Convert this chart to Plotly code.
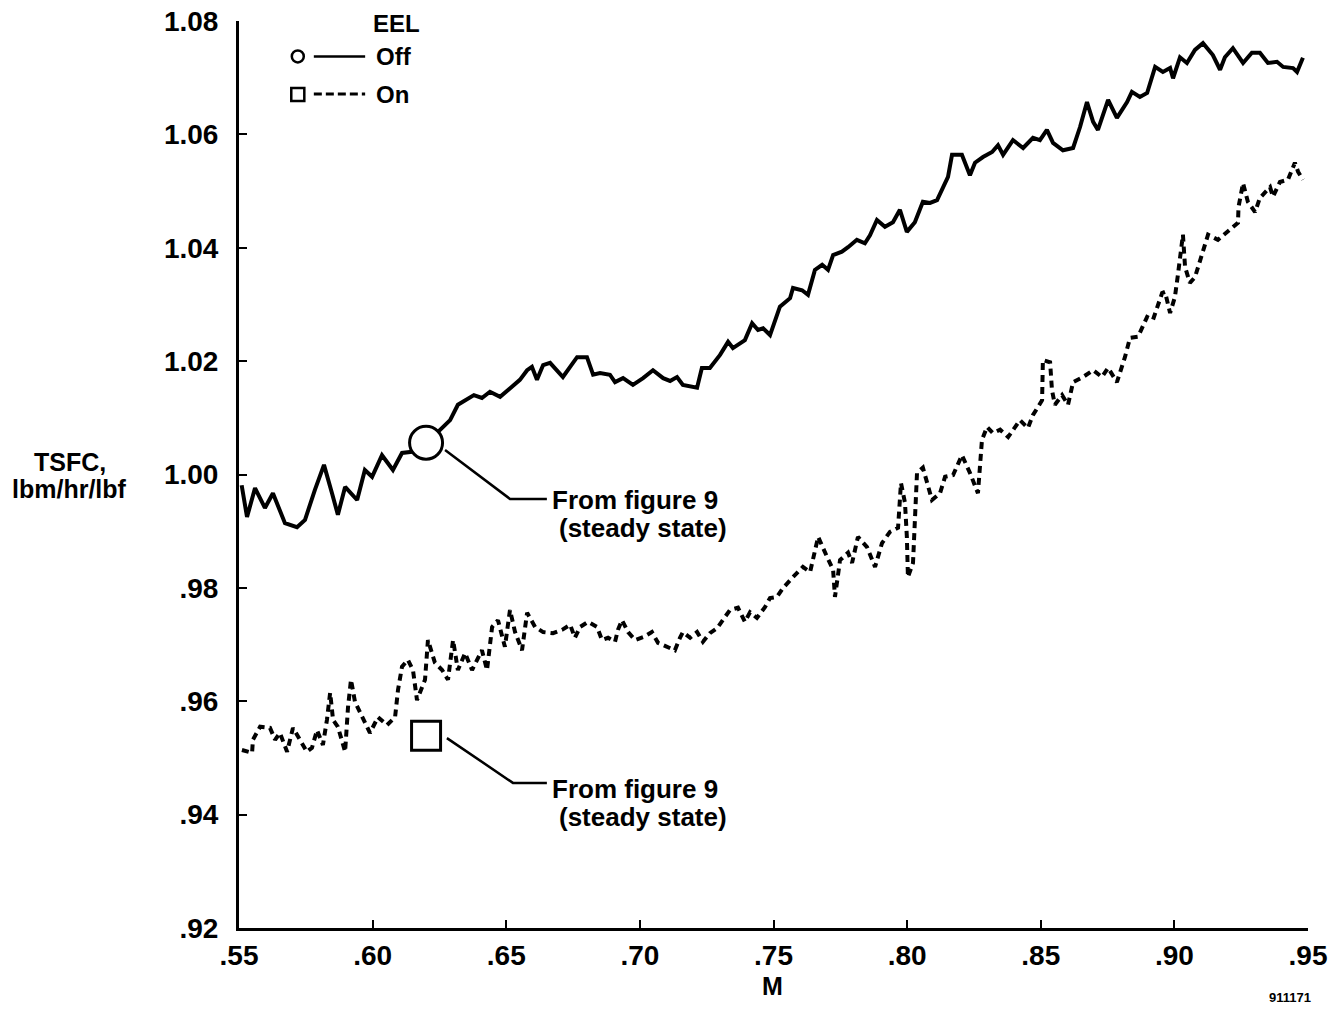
import plotly.graph_objects as go

# ---------------- data ----------------
off_mach = [0.5510, 0.5530, 0.5560, 0.5597, 0.5627, 0.5672, 0.5717, 0.5747, 0.5784, 0.5818,
            0.5848, 0.5870, 0.5897, 0.5942, 0.5971, 0.5998, 0.6035, 0.6076, 0.6110, 0.6147,
            0.6203, 0.6263, 0.6290, 0.6319, 0.6349, 0.6379, 0.6409, 0.6439, 0.6477, 0.6525,
            0.6551, 0.6578, 0.6596, 0.6615, 0.6638, 0.6664, 0.6712, 0.6739, 0.6765, 0.6802,
            0.6825, 0.6851, 0.6888, 0.6907, 0.6937, 0.6974, 0.7012, 0.7049, 0.7087, 0.7113,
            0.7139, 0.7161, 0.7214, 0.7232, 0.7262, 0.7300, 0.7330, 0.7348, 0.7393, 0.7420,
            0.7442, 0.7461, 0.7487, 0.7524, 0.7562, 0.7573, 0.7607, 0.7629, 0.7655, 0.7682,
            0.7704, 0.7723, 0.7756, 0.7779, 0.7812, 0.7842, 0.7861, 0.7887, 0.7917, 0.7947,
            0.7973, 0.7999, 0.8029, 0.8059, 0.8086, 0.8112, 0.8134, 0.8153, 0.8168, 0.8205,
            0.8235, 0.8254, 0.8284, 0.8318, 0.8340, 0.8359, 0.8396, 0.8434, 0.8471, 0.8497,
            0.8523, 0.8546, 0.8583, 0.8621, 0.8647, 0.8673, 0.8696, 0.8714, 0.8752, 0.8785,
            0.8823, 0.8841, 0.8871, 0.8898, 0.8928, 0.8957, 0.8984, 0.8995, 0.9021, 0.9047,
            0.9077, 0.9107, 0.9144, 0.9171, 0.9189, 0.9219, 0.9257, 0.9290, 0.9320, 0.9350,
            0.9384, 0.9407, 0.9444, 0.9459, 0.9481]
off_tsfc = [0.9981, 0.9925, 0.9976, 0.9941, 0.9967, 0.9914, 0.9907, 0.9920, 0.9973, 1.0017,
            0.9967, 0.9929, 0.9978, 0.9955, 1.0008, 0.9996, 1.0034, 1.0008, 1.0038, 1.0040,
            1.0056, 1.0082, 1.0096, 1.0123, 1.0131, 1.0140, 1.0135, 1.0146, 1.0137, 1.0158,
            1.0167, 1.0184, 1.0190, 1.0167, 1.0193, 1.0197, 1.0172, 1.0190, 1.0207, 1.0207,
            1.0176, 1.0179, 1.0176, 1.0163, 1.0170, 1.0158, 1.0170, 1.0184, 1.0170, 1.0165,
            1.0172, 1.0158, 1.0153, 1.0188, 1.0188, 1.0211, 1.0234, 1.0223, 1.0237, 1.0267,
            1.0255, 1.0258, 1.0246, 1.0296, 1.0311, 1.0329, 1.0325, 1.0317, 1.0361, 1.0370,
            1.0361, 1.0387, 1.0393, 1.0401, 1.0414, 1.0408, 1.0422, 1.0449, 1.0437, 1.0445,
            1.0467, 1.0428, 1.0445, 1.0481, 1.0479, 1.0484, 1.0505, 1.0525, 1.0564, 1.0564,
            1.0528, 1.0550, 1.0560, 1.0569, 1.0581, 1.0564, 1.0590, 1.0576, 1.0594, 1.0590,
            1.0608, 1.0585, 1.0572, 1.0576, 1.0613, 1.0657, 1.0622, 1.0608, 1.0661, 1.0629,
            1.0657, 1.0675, 1.0666, 1.0673, 1.0719, 1.0710, 1.0717, 1.0699, 1.0736, 1.0726,
            1.0749, 1.0761, 1.0740, 1.0714, 1.0736, 1.0752, 1.0726, 1.0744, 1.0744, 1.0726,
            1.0728, 1.0719, 1.0717, 1.0710, 1.0735]

on_mach = [0.5511, 0.5549, 0.5552, 0.5579, 0.5616, 0.5635, 0.5653, 0.5680, 0.5702, 0.5721,
           0.5754, 0.5773, 0.5792, 0.5814, 0.5829, 0.5841, 0.5852, 0.5870, 0.5897, 0.5908,
           0.5919, 0.5934, 0.5953, 0.5971, 0.5990, 0.6020, 0.6054, 0.6084, 0.6095, 0.6110,
           0.6132, 0.6151, 0.6166, 0.6196, 0.6207, 0.6233, 0.6260, 0.6282, 0.6301, 0.6319,
           0.6346, 0.6372, 0.6409, 0.6428, 0.6447, 0.6469, 0.6495, 0.6514, 0.6533, 0.6559,
           0.6578, 0.6608, 0.6638, 0.6675, 0.6709, 0.6739, 0.6757, 0.6776, 0.6806, 0.6840,
           0.6858, 0.6881, 0.6907, 0.6918, 0.6933, 0.6956, 0.6982, 0.7012, 0.7045, 0.7068,
           0.7105, 0.7131, 0.7150, 0.7161, 0.7188, 0.7214, 0.7236, 0.7262, 0.7289, 0.7311,
           0.7337, 0.7367, 0.7393, 0.7412, 0.7438, 0.7468, 0.7487, 0.7513, 0.7536, 0.7573,
           0.7588, 0.7610, 0.7637, 0.7667, 0.7700, 0.7723, 0.7730, 0.7749, 0.7779, 0.7794,
           0.7816, 0.7850, 0.7880, 0.7906, 0.7936, 0.7966, 0.7977, 0.7992, 0.7999, 0.8003,
           0.8022, 0.8037, 0.8059, 0.8074, 0.8093, 0.8123, 0.8142, 0.8172, 0.8205, 0.8235,
           0.8265, 0.8280, 0.8299, 0.8321, 0.8348, 0.8378, 0.8422, 0.8452, 0.8471, 0.8505,
           0.8508, 0.8535, 0.8542, 0.8553, 0.8580, 0.8602, 0.8621, 0.8658, 0.8696, 0.8729,
           0.8752, 0.8785, 0.8815, 0.8834, 0.8864, 0.8898, 0.8920, 0.8954, 0.8965, 0.8984,
           0.9002, 0.9014, 0.9032, 0.9040, 0.9058, 0.9077, 0.9103, 0.9126, 0.9163, 0.9197,
           0.9238, 0.9240, 0.9257, 0.9275, 0.9302, 0.9320, 0.9358, 0.9369, 0.9395, 0.9425,
           0.9451, 0.9463, 0.9481]
on_tsfc = [0.9514, 0.9509, 0.9532, 0.9555, 0.9553, 0.9532, 0.9544, 0.9511, 0.9553, 0.9537,
           0.9511, 0.9518, 0.9549, 0.9523, 0.9567, 0.9615, 0.9567, 0.9555, 0.9511, 0.9590,
           0.9638, 0.9599, 0.9579, 0.9562, 0.9544, 0.9572, 0.9558, 0.9572, 0.9620, 0.9661,
           0.9673, 0.9655, 0.9602, 0.9638, 0.9708, 0.9668, 0.9655, 0.9638, 0.9708, 0.9655,
           0.9685, 0.9655, 0.9690, 0.9655, 0.9731, 0.9743, 0.9696, 0.9761, 0.9722, 0.9690,
           0.9756, 0.9731, 0.9722, 0.9720, 0.9726, 0.9735, 0.9712, 0.9731, 0.9740, 0.9731,
           0.9708, 0.9712, 0.9705, 0.9726, 0.9743, 0.9722, 0.9708, 0.9713, 0.9722, 0.9703,
           0.9696, 0.9690, 0.9712, 0.9722, 0.9712, 0.9722, 0.9705, 0.9720, 0.9729, 0.9743,
           0.9761, 0.9765, 0.9740, 0.9757, 0.9747, 0.9766, 0.9782, 0.9784, 0.9800, 0.9819,
           0.9826, 0.9837, 0.9828, 0.9890, 0.9855, 0.9832, 0.9784, 0.9849, 0.9862, 0.9844,
           0.9890, 0.9872, 0.9837, 0.9879, 0.9899, 0.9906, 0.9985, 0.9950, 0.9890, 0.9819,
           0.9844, 1.0003, 1.0012, 0.9985, 0.9955, 0.9967, 0.9996, 0.9999, 1.0034, 1.0003,
           0.9967, 1.0061, 1.0084, 1.0073, 1.0079, 1.0066, 1.0096, 1.0082, 1.0105, 1.0131,
           1.0202, 1.0198, 1.0149, 1.0123, 1.0140, 1.0123, 1.0163, 1.0172, 1.0184, 1.0172,
           1.0188, 1.0163, 1.0207, 1.0241, 1.0243, 1.0278, 1.0273, 1.0320, 1.0322, 1.0285,
           1.0313, 1.0355, 1.0423, 1.0366, 1.0338, 1.0348, 1.0391, 1.0423, 1.0414, 1.0428,
           1.0444, 1.0472, 1.0514, 1.0481, 1.0463, 1.0488, 1.0507, 1.0490, 1.0516, 1.0520,
           1.0550, 1.0534, 1.0520]

# steady-state points (from figure 9)
steady_mach = [0.62, 0.62]
steady_tsfc = [1.0056, 0.9539]

x_tickvals = [0.55, 0.60, 0.65, 0.70, 0.75, 0.80, 0.85, 0.90, 0.95]
x_ticktext = [".55", ".60", ".65", ".70", ".75", ".80", ".85", ".90", ".95"]
y_tickvals = [0.92, 0.94, 0.96, 0.98, 1.00, 1.02, 1.04, 1.06, 1.08]
y_ticktext = [".92", ".94", ".96", ".98", "1.00", "1.02", "1.04", "1.06", "1.08"]

# annotation leader lines (data units)
off_leader_m = [0.6271, 0.6514, 0.6652]
off_leader_v = [1.0043, 0.9957, 0.9957]
on_leader_m = [0.6278, 0.6525, 0.6652]
on_leader_v = [0.9535, 0.9456, 0.9456]

FONT = "Liberation Sans, Arial, Helvetica, sans-serif"

fig = go.Figure()

fig.add_trace(go.Scatter(x=off_mach, y=off_tsfc, mode="lines",
                         line=dict(color="black", width=4), showlegend=False))
fig.add_trace(go.Scatter(x=on_mach, y=on_tsfc, mode="lines",
                         line=dict(color="black", width=4, dash="7px,5px"), showlegend=False))
fig.add_trace(go.Scatter(x=off_leader_m, y=off_leader_v, mode="lines",
                         line=dict(color="black", width=2.5), showlegend=False))
fig.add_trace(go.Scatter(x=on_leader_m, y=on_leader_v, mode="lines",
                         line=dict(color="black", width=2.5), showlegend=False))
fig.add_trace(go.Scatter(x=steady_mach[:1], y=steady_tsfc[:1], mode="markers",
                         marker=dict(symbol="circle", size=33, color="white",
                                     line=dict(color="black", width=3)), showlegend=False))
fig.add_trace(go.Scatter(x=steady_mach[1:], y=steady_tsfc[1:], mode="markers",
                         marker=dict(symbol="square", size=29, color="white",
                                     line=dict(color="black", width=3)), showlegend=False))

bold = dict(family=FONT, color="black", weight="bold")

annotations = [
    dict(x=0.6664, y=0.9955, xref="x", yref="y", text="From figure 9", showarrow=False,
         xanchor="left", yanchor="middle", font=dict(size=26, **bold)),
    dict(x=0.6690, y=0.9905, xref="x", yref="y", text="(steady state)", showarrow=False,
         xanchor="left", yanchor="middle", font=dict(size=26, **bold)),
    dict(x=0.6664, y=0.9445, xref="x", yref="y", text="From figure 9", showarrow=False,
         xanchor="left", yanchor="middle", font=dict(size=26, **bold)),
    dict(x=0.6690, y=0.9395, xref="x", yref="y", text="(steady state)", showarrow=False,
         xanchor="left", yanchor="middle", font=dict(size=26, **bold)),
    # axis titles
    dict(x=-0.1581, y=0.5138, xref="paper", yref="paper", text="TSFC,",
         showarrow=False, xanchor="center", yanchor="middle", font=dict(size=25, **bold)),
    dict(x=-0.1581, y=0.4840, xref="paper", yref="paper", text="lbm/hr/lbf",
         showarrow=False, xanchor="center", yanchor="middle", font=dict(size=25, **bold)),
    dict(x=0.4995, y=-0.0640, xref="paper", yref="paper", text="M", showarrow=False,
         xanchor="center", yanchor="middle", font=dict(size=25, **bold)),
    dict(x=0.9832, y=-0.0761, xref="paper", yref="paper", text="911171", showarrow=False,
         xanchor="center", yanchor="middle", font=dict(size=13, **bold)),
    # legend
    dict(x=0.1470, y=0.9967, xref="paper", yref="paper", text="EEL", showarrow=False,
         xanchor="center", yanchor="middle", font=dict(size=24, **bold)),
    dict(x=0.1260, y=0.9614, xref="paper", yref="paper", text="Off", showarrow=False,
         xanchor="left", yanchor="middle", font=dict(size=24, **bold)),
    dict(x=0.1260, y=0.9195, xref="paper", yref="paper", text="On", showarrow=False,
         xanchor="left", yanchor="middle", font=dict(size=24, **bold)),
]

lg_x = 0.0550
shapes = [
    dict(type="circle", xref="paper", yref="paper", x0=lg_x - 0.0056, x1=lg_x + 0.0056,
         y0=0.9609 - 0.0066, y1=0.9609 + 0.0066, line=dict(color="black", width=2.5)),
    dict(type="rect", xref="paper", yref="paper", x0=lg_x - 0.0061, x1=lg_x + 0.0061,
         y0=0.9190 - 0.0072, y1=0.9190 + 0.0072, line=dict(color="black", width=2.5)),
    dict(type="line", xref="paper", yref="paper", x0=0.0700, x1=0.1180, y0=0.9609, y1=0.9609,
         line=dict(color="black", width=2.5)),
    dict(type="line", xref="paper", yref="paper", x0=0.0700, x1=0.1180, y0=0.9195, y1=0.9195,
         line=dict(color="black", width=3, dash="8px,4px")),
]

fig.update_layout(
    width=1344, height=1009,
    margin=dict(l=239, r=36, t=21, b=81, pad=0),
    paper_bgcolor="white", plot_bgcolor="white",
    font=dict(family=FONT, size=26, color="black", weight="bold"),
    annotations=annotations, shapes=shapes,
    showlegend=False,
)
fig.update_xaxes(range=[0.55, 0.95], tickvals=x_tickvals, ticktext=x_ticktext,
                 showgrid=False, zeroline=False, showline=True, linecolor="black", linewidth=3,
                 ticks="inside", ticklen=8, tickwidth=2, tickcolor="black", automargin=False,
                 ticklabelstandoff=0, tickfont=dict(size=28, **bold))
fig.update_yaxes(range=[0.92, 1.08], tickvals=y_tickvals, ticktext=y_ticktext,
                 showgrid=False, zeroline=False, showline=True, linecolor="black", linewidth=3,
                 ticks="inside", ticklen=8, tickwidth=2, tickcolor="black", automargin=False,
                 ticklabelstandoff=12, tickfont=dict(size=28, **bold))

fig.write_html("out.html")
